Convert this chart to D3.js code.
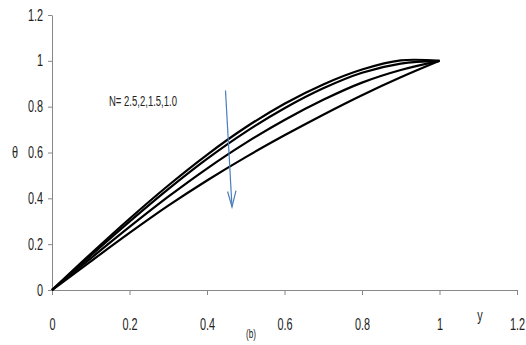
<!DOCTYPE html>
<html>
<head>
<meta charset="utf-8">
<script src="https://cdn.jsdelivr.net/npm/d3@7"></script>
<style>
  body { margin: 0; background: #fff; }
  svg text { font-family: "Liberation Sans", Arial, sans-serif; fill: #222; }
</style>
</head>
<body>
<div id="chart"></div>
<script>
const xValues = [0, 0.1, 0.2, 0.3, 0.4, 0.5, 0.6, 0.7, 0.8, 0.9, 1.0];
// theta profiles, N = 2.5, 2, 1.5, 1.0 (top to bottom)
const thetaN25 = [0, 0.158, 0.311, 0.456, 0.59, 0.71, 0.813, 0.897, 0.962, 1.002, 1.0];
const thetaN20 = [0, 0.15, 0.298, 0.44, 0.572, 0.69, 0.793, 0.88, 0.948, 0.988, 1.0];
const thetaN15 = [0, 0.138, 0.275, 0.407, 0.53, 0.642, 0.742, 0.83, 0.905, 0.96, 1.0];
const thetaN10 = [0, 0.125, 0.249, 0.368, 0.478, 0.58, 0.675, 0.765, 0.85, 0.928, 1.0];
const xTicks = [0, 0.2, 0.4, 0.6, 0.8, 1, 1.2];
const yTicks = [0, 0.2, 0.4, 0.6, 0.8, 1, 1.2];

const width = 526, height = 345;
const margin = { top: 15, right: 9, bottom: 55, left: 52 };
const squeeze = 0.68; // the original font is a tall condensed face

const svg = d3.select("#chart").append("svg")
    .attr("width", width)
    .attr("height", height);

const x = d3.scaleLinear().domain([0, 1.2]).range([margin.left, width - margin.right]);
const y = d3.scaleLinear().domain([0, 1.2]).range([height - margin.bottom, margin.top]);

// y axis
const yAxis = svg.append("g")
    .attr("transform", `translate(${margin.left},0)`)
    .call(d3.axisLeft(y).tickValues(yTicks).tickSize(4).tickSizeOuter(0).tickFormat(d3.format("")));
yAxis.select(".domain").attr("stroke", "#888");
yAxis.selectAll(".tick line").attr("stroke", "#888");
yAxis.selectAll(".tick text")
    .attr("x", -9 / squeeze)
    .attr("transform", `scale(${squeeze},1)`)
    .attr("font-size", "16px");

// x axis, labels sit well below the line
const xAxis = svg.append("g")
    .attr("transform", `translate(0,${height - margin.bottom})`)
    .call(d3.axisBottom(x).tickValues(xTicks).tickSize(5).tickSizeOuter(0).tickFormat(d3.format("")));
xAxis.select(".domain").attr("stroke", "#888");
xAxis.selectAll(".tick line").attr("stroke", "#888");
xAxis.selectAll(".tick text")
    .attr("y", 29)
    .attr("transform", `scale(${squeeze},1)`)
    .attr("font-size", "16px");

const line = d3.line()
    .x((d, i) => x(xValues[i]))
    .y(d => y(d))
    .curve(d3.curveCatmullRom);

[thetaN25, thetaN20, thetaN15, thetaN10].forEach(s => {
    svg.append("path")
        .datum(s)
        .attr("d", line)
        .attr("fill", "none")
        .attr("stroke", "#000")
        .attr("stroke-width", 2.2);
});

// annotation arrow
svg.append("line")
    .attr("x1", 225.5).attr("y1", 90.5)
    .attr("x2", 232).attr("y2", 207)
    .attr("stroke", "#4a7ebb").attr("stroke-width", 1.2);
svg.append("path")
    .attr("d", "M227.6,191.5 L232,207 L236,190.6")
    .attr("fill", "none")
    .attr("stroke", "#4a7ebb").attr("stroke-width", 1.2);

function label(txt, px, py, size, anchor) {
    svg.append("text")
        .attr("transform", `translate(${px},${py}) scale(${squeeze},1)`)
        .attr("text-anchor", anchor)
        .attr("font-size", size + "px")
        .text(txt);
}

label("N= 2.5,2,1.5,1.0", 109, 106, 14, "start");
label("θ", 15, 158, 16, "middle");
label("y", 480, 321, 16, "middle");
label("(b)", 251, 338, 12, "middle");
</script>
</body>
</html>
